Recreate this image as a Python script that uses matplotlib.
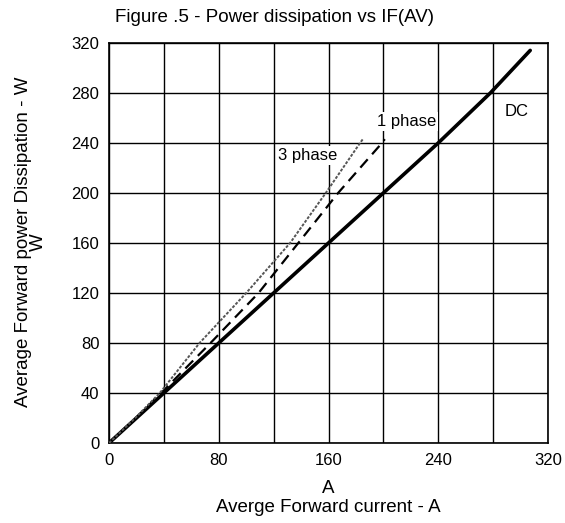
import matplotlib.pyplot as plt

plt.rcParams['font.family'] = ['Liberation Sans', 'DejaVu Sans']

# values (A, W)
dc_x = [0, 40, 80, 120, 160, 200, 240, 278, 307]
dc_y = [0, 40, 80, 120, 160, 200, 240, 280, 314]

ph1_x = [0, 20, 38, 74, 109, 138, 167, 199, 201]
ph1_y = [0, 20.5, 40, 80, 120, 160, 200, 240, 243]

ph3_x = [0, 20, 37, 66, 100, 132, 158, 183, 185]
ph3_y = [0, 21, 40, 80, 120, 160, 200, 240, 243]

x_ticks = [0, 80, 160, 240, 320]
y_ticks = [0, 40, 80, 120, 160, 200, 240, 280, 320]

fig = plt.figure(figsize=(5.65, 5.23), dpi=100)
ax = fig.add_axes([0.193, 0.153, 0.777, 0.765])

ax.plot(dc_x, dc_y, color='black', lw=2.6, solid_capstyle='round', zorder=3)
ax.plot(ph1_x, ph1_y, color='black', lw=1.6, ls=(0, (5, 3)), zorder=3)
ax.plot(ph3_x, ph3_y, color='#555555', lw=1.4, ls=(0, (1.5, 0.8)), zorder=3)

box = dict(facecolor='white', edgecolor='none', pad=1.5)
ax.text(145, 230, '3 phase', fontsize=12, ha='center', va='center', bbox=box, zorder=4)
ax.text(217, 257, '1 phase', fontsize=12, ha='center', va='center', bbox=box, zorder=4)
ax.text(297, 265, 'DC', fontsize=12, ha='center', va='center', zorder=4)

ax.set_xlim(0, 320)
ax.set_ylim(0, 320)
ax.set_xticks(range(0, 321, 40))
ax.set_xticklabels([str(v) if v in x_ticks else '' for v in range(0, 321, 40)])
ax.set_yticks(y_ticks)
ax.tick_params(length=0, labelsize=12, pad=7)
ax.grid(True, color='black', lw=1.0)
for s in ax.spines.values():
    s.set_linewidth(1.2)

ax.set_xlabel('A\nAverge Forward current - A', fontsize=13.5, labelpad=9,
              linespacing=1.1)

# y label: two tight lines, placed by hand like the reference
fig.text(31 / 565, 1 - 242 / 523, 'Average Forward power Dissipation - W\nW',
         fontsize=13.5, rotation=90, ha='center', va='center',
         multialignment='center', linespacing=0.9)

fig.text(115 / 565, 1 - 17 / 523, 'Figure .5 - Power dissipation vs IF(AV)',
         fontsize=13.5, ha='left', va='center')

fig.savefig('out.png', dpi=100)
